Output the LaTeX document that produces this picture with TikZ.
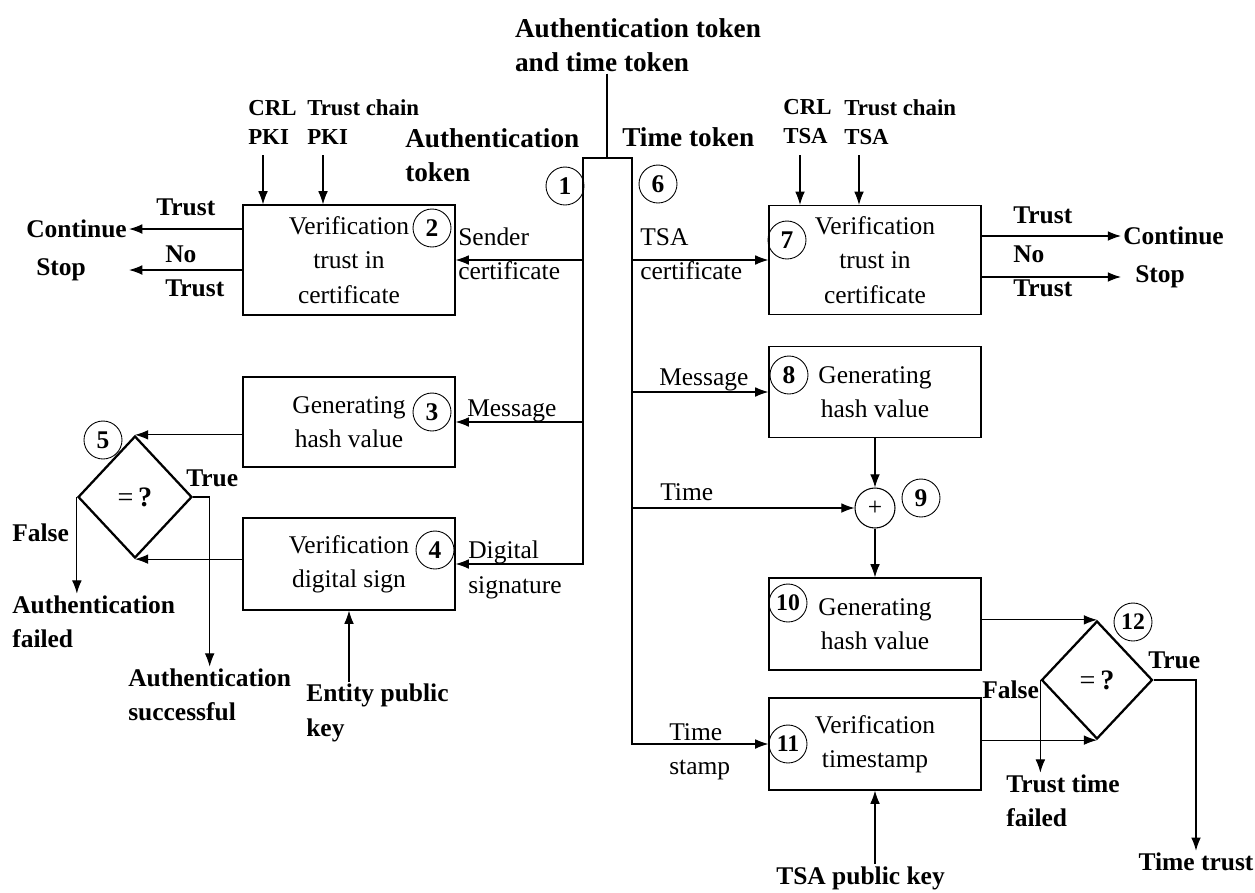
\documentclass[tikz,border=0pt]{standalone}
\usepackage{fontspec}
\setmainfont{Liberation Serif}
\usepackage{tikz}
\usetikzlibrary{arrows,arrows.meta,shapes,positioning}
\newcommand{\txtsize}{\fontsize{14.5}{19.5}\selectfont}
\newcommand{\topsize}{\fontsize{13}{16.5}\selectfont}
\newcommand{\headsize}{\fontsize{15.5}{19}\selectfont}
\tikzstyle{arrow} = [-{Latex[length=7.5pt,width=5.5pt]}]
\tikzstyle{stepbox} = [draw, line width=0.75pt, minimum width=4.24cm, align=center, font=\txtsize, inner sep=2pt]
\tikzstyle{num} = [circle, draw, line width=0.5pt, minimum size=0.76cm, inner sep=0pt, font=\txtsize\bfseries]
\tikzstyle{numtwo} = [num, font=\fontsize{13.5}{15}\selectfont\bfseries]
\tikzstyle{check} = [diamond, draw, line width=1.3pt, inner sep=0pt, font=\fontsize{16}{19}\selectfont]
\tikzstyle{lbl} = [align=left, inner sep=1pt, anchor=west, font=\txtsize]
\tikzstyle{blbl} = [lbl, font=\txtsize\bfseries]
\tikzstyle{tlbl} = [lbl, font=\topsize\bfseries]

\begin{document}
\begin{tikzpicture}[x=0.02cm, y=-0.02cm, line width=0.6pt]
\useasboundingbox (0,0) rectangle (1255,893);

% incoming tokens
\node[blbl, anchor=center, font=\headsize\bfseries] (title) at (638,45) {Authentication token\\and time token};
\node[blbl, font=\headsize\bfseries] (authtok) at (403,155) {Authentication\\token};
\node[blbl, font=\headsize\bfseries] (timetok) at (620,137) {Time token};
\coordinate (jn) at (607,158);
\coordinate (tl) at (583,158);
\coordinate (tr) at (632,158);
\node[num] (n1) at (565,186) {1};
\node[num] (n6) at (658,184) {6};

% authentication token
\node[stepbox, minimum height=2.2cm] (ver2) at (349,260) {Verification\\trust in\\certificate};
\node[stepbox, minimum height=1.8cm] (gen3) at (349,422) {Generating\\hash value};
\node[stepbox, minimum height=1.84cm] (ver4) at (349,564) {Verification\\digital sign};
\node[check, minimum width=2.28cm, minimum height=2.44cm] (eq5) at (135,497) {=\,\textbf{?}};
\node[num] (n2) at (432,228) {2};
\node[num] (n3) at (432,412) {3};
\node[num] (n4) at (435,550) {4};
\node[num] (n5) at (103,440) {5};

\node[tlbl] (crlpki) at (246,122) {CRL\\PKI};
\node[tlbl] (chainpki) at (305,122) {Trust chain\\PKI};
\coordinate (crlpkiA) at (263,155);
\coordinate (chainpkiA) at (323,155);
\node[blbl] (contL) at (24,229) {Continue};
\node[blbl] (stopL) at (34,270) {Stop};
\node[blbl] (trustL) at (154,207) {Trust};
\node[blbl] (notrustL) at (163,271) {No\\Trust};
\node[lbl] (sendcert) at (456,254) {Sender\\certificate};
\node[lbl] (msgL) at (465,411) {Message};
\node[lbl] (digsig) at (466,570) {Digital\\signature};
\node[blbl] (trueL) at (184,478) {True};
\node[blbl] (falseL) at (10,533) {False};
\node[blbl] (afail) at (10,622) {Authentication\\failed};
\node[blbl] (asucc) at (126,695) {Authentication\\successful};
\node[blbl] (entkey) at (304,713) {Entity public\\key};

% time token
\node[stepbox, minimum height=2.18cm] (ver7) at (875,260) {Verification\\trust in\\certificate};
\node[stepbox, minimum height=1.82cm] (gen8) at (875,392) {Generating\\hash value};
\node[circle, draw, minimum size=0.8cm, inner sep=0pt, font=\txtsize] (plus) at (875,508) {+};
\node[stepbox, minimum height=1.84cm] (gen10) at (875,624) {Generating\\hash value};
\node[stepbox, minimum height=1.84cm] (ver11) at (875,744) {Verification\\timestamp};
\node[check, minimum width=2.22cm, minimum height=2.36cm] (eq12) at (1097,680) {=\,\textbf{?}};
\node[num] (n7) at (787,240) {7};
\node[num] (n8) at (789,375) {8};
\node[num] (n9) at (921,498) {9};
\node[numtwo] (n10) at (788,603) {10};
\node[numtwo] (n11) at (788,744) {11};
\node[numtwo] (n12) at (1133,622) {12};

\node[tlbl] (crltsa) at (781,122) {CRL\\TSA};
\node[tlbl] (chaintsa) at (842,122) {Trust chain\\TSA};
\coordinate (crltsaA) at (800,155);
\coordinate (chaintsaA) at (859,155);
\node[blbl] (contR) at (1121,236) {Continue};
\node[blbl] (stopR) at (1133,277) {Stop};
\node[blbl] (trustR) at (1011,215) {Trust};
\node[blbl] (notrustR) at (1011,271) {No\\Trust};
\node[lbl] (tsacert) at (638,254) {TSA\\certificate};
\node[lbl] (msgR) at (657,380) {Message};
\node[lbl] (timeR) at (658,492) {Time};
\node[lbl] (tstamp) at (667,752) {Time\\stamp};
\node[blbl] (falseR) at (980,690) {False};
\node[blbl] (trueR) at (1146,660) {True};
\node[blbl] (tfail) at (1004,801) {Trust time\\failed};
\node[blbl, anchor=center] (ttrust) at (1196,862) {Time trust};
\node[blbl] (tsakey) at (774,878) {TSA public key};

% trunk
\draw (title.south -| jn) -- (jn);
\draw[arrow] (jn) -- (tl) |- (ver4.east);
\draw[arrow] (jn) -- (tr) |- (ver11.west);

% authentication branch
\draw[arrow] (tl |- ver2.east) -- (ver2.east);
\draw[arrow] (tl |- gen3.east) -- (gen3.east);
\draw[arrow] (crlpkiA) -- (crlpkiA |- ver2.north);
\draw[arrow] (chainpkiA) -- (chainpkiA |- ver2.north);
\draw[arrow] (ver2.west |- contL) -- (contL.east);
\draw[arrow] (ver2.west |- stopL) -- (contL.east |- stopL);
\draw[arrow] (gen3.west |- eq5.north) -- (eq5.north);
\draw[arrow] (ver4.west |- eq5.south) -- (eq5.south);
\draw[arrow] (eq5.west) -- (eq5.west |- afail.north);
\draw[arrow] (eq5.east) -| (asucc.north);
\draw[arrow] (entkey.north -| ver4.south) -- (ver4.south);

% time branch
\draw[arrow] (tr |- ver7.west) -- (ver7.west);
\draw[arrow] (tr |- gen8.west) -- (gen8.west);
\draw[arrow] (tr |- plus.west) -- (plus.west);
\draw[arrow] (crltsaA) -- (crltsaA |- ver7.north);
\draw[arrow] (chaintsaA) -- (chaintsaA |- ver7.north);
\draw[arrow] (ver7.east |- contR) -- (contR.west);
\draw[arrow] (ver7.east |- stopR) -- (contR.west |- stopR);
\draw[arrow] (gen8.south) -- (plus.north);
\draw[arrow] (plus.south) -- (gen10.north);
\draw[arrow] (gen10.east |- eq12.north) -- (eq12.north);
\draw[arrow] (ver11.east |- eq12.south) -- (eq12.south);
\draw[arrow] (eq12.west) -- (eq12.west |- tfail.north);
\draw[arrow] (eq12.east) -| (ttrust.north);
\draw[arrow] (tsakey.north -| ver11.south) -- (ver11.south);
\end{tikzpicture}
\end{document}
